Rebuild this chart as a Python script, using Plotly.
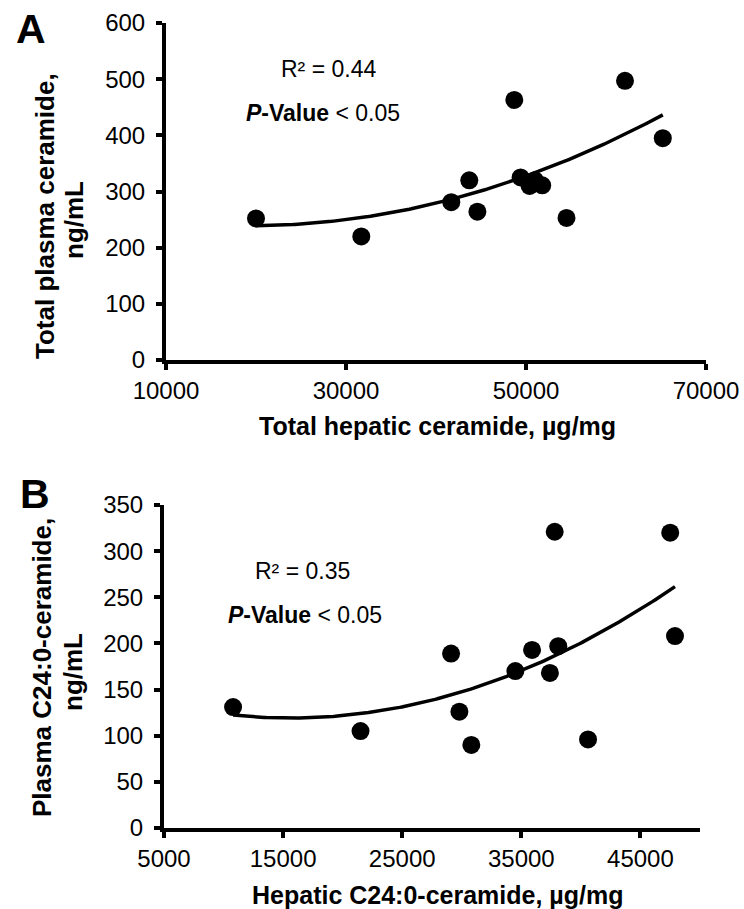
import numpy as np
import plotly.graph_objects as go

W, H = 744, 909
OFF = 0  # page body margin is removed by the post script below

# Panel A data
a_hepatic = [20000, 31700, 41700, 43700, 44600, 48700, 49400, 50400, 51000, 51800, 54500, 61000, 65200]
a_plasma = [252, 220, 281, 320, 264, 463, 325, 310, 320, 311, 253, 497, 395]
a_xticks = [10000, 30000, 50000, 70000]
a_yticks = [0, 100, 200, 300, 400, 500, 600]

# Panel B data
b_hepatic = [10800, 21500, 29100, 29800, 30800, 34500, 35900, 37400, 37800, 38100, 40600, 47500, 47900]
b_plasma = [131, 105, 189, 126, 90, 170, 193, 168, 321, 197, 96, 320, 208]
b_xticks = [5000, 15000, 25000, 35000, 45000]
b_yticks = [0, 50, 100, 150, 200, 250, 300, 350]

FONT = "Liberation Sans, Arial, sans-serif"

def px_x(p):
    return (p - OFF) / W

def px_y(p):
    return 1 - (p - OFF) / H

fig = go.Figure()

def add_panel(xd, yd, xa, ya):
    coef = np.polyfit(xd, yd, 2)
    xs = np.linspace(min(xd), max(xd), 200)
    ys = np.polyval(coef, xs)
    fig.add_trace(go.Scatter(x=xs, y=ys, mode="lines", line=dict(color="black", width=3.5),
                             xaxis=xa, yaxis=ya, hoverinfo="skip", showlegend=False))
    fig.add_trace(go.Scatter(x=xd, y=yd, mode="markers",
                             marker=dict(color="black", size=18, line=dict(width=0)),
                             xaxis=xa, yaxis=ya, showlegend=False, cliponaxis=False))

add_panel(a_hepatic, a_plasma, "x", "y")
add_panel(b_hepatic, b_plasma, "x2", "y2")

axis_common = dict(showgrid=False, zeroline=False, showline=True, linecolor="black", linewidth=4,
                   ticks="outside", ticklen=6, tickwidth=4, tickcolor="black", tickformat="d",
                   automargin=False,
                   tickfont=dict(family=FONT, size=24, color="black"), fixedrange=True)

fig.update_layout(
    width=W, height=H, margin=dict(l=0, r=0, t=0, b=0, autoexpand=False),
    paper_bgcolor="white", plot_bgcolor="white", showlegend=False,
    xaxis=dict(domain=[px_x(166), px_x(706)], range=[10000, 70000], tickvals=a_xticks,
               anchor="y", ticklabelstandoff=0, **axis_common),
    yaxis=dict(domain=[px_y(360), px_y(23)], range=[0, 600], tickvals=a_yticks,
               anchor="x", ticklabelstandoff=6, **axis_common),
    xaxis2=dict(domain=[px_x(164), px_x(700)], range=[5000, 50000], tickvals=b_xticks,
                anchor="y2", ticklabelstandoff=0, **axis_common),
    yaxis2=dict(domain=[px_y(828), px_y(505)], range=[0, 350], tickvals=b_yticks,
                anchor="x2", ticklabelstandoff=6, **axis_common),
)

def ann(text, x, y, size, angle=0):
    fig.add_annotation(text=text, x=px_x(x), y=px_y(y), xref="paper", yref="paper",
                       xanchor="center", yanchor="middle", showarrow=False, textangle=angle,
                       font=dict(family=FONT, size=size, color="black"))

# Panel letters
ann("<b>A</b>", 31, 29, 41)
ann("<b>B</b>", 35, 494, 41)

# Axis titles A
ann("<b>Total hepatic ceramide, µg/mg</b>", 437, 426, 25)
ann("<b>Total plasma ceramide,</b>", 45, 216, 26, angle=-90)
ann("<b>ng/mL</b>", 74, 220, 26, angle=-90)

# Axis titles B
ann("<b>Hepatic C24:0-ceramide, µg/mg</b>", 437, 895, 25)
ann("<b>Plasma C24:0-ceramide,</b>", 42, 668, 26, angle=-90)
ann("<b>ng/mL</b>", 73, 672, 26, angle=-90)

# Stats text
ann("R² = 0.44", 328, 69, 23)
ann("<b><i>P</i>-Value</b> &lt; 0.05", 323, 113, 23)
ann("R² = 0.35", 302, 571, 23)
ann("<b><i>P</i>-Value</b> &lt; 0.05", 305, 615, 23)

fig.write_html("out.html", config={"displayModeBar": False},
               post_script="document.body.style.margin='0';document.body.style.overflow='hidden';")
